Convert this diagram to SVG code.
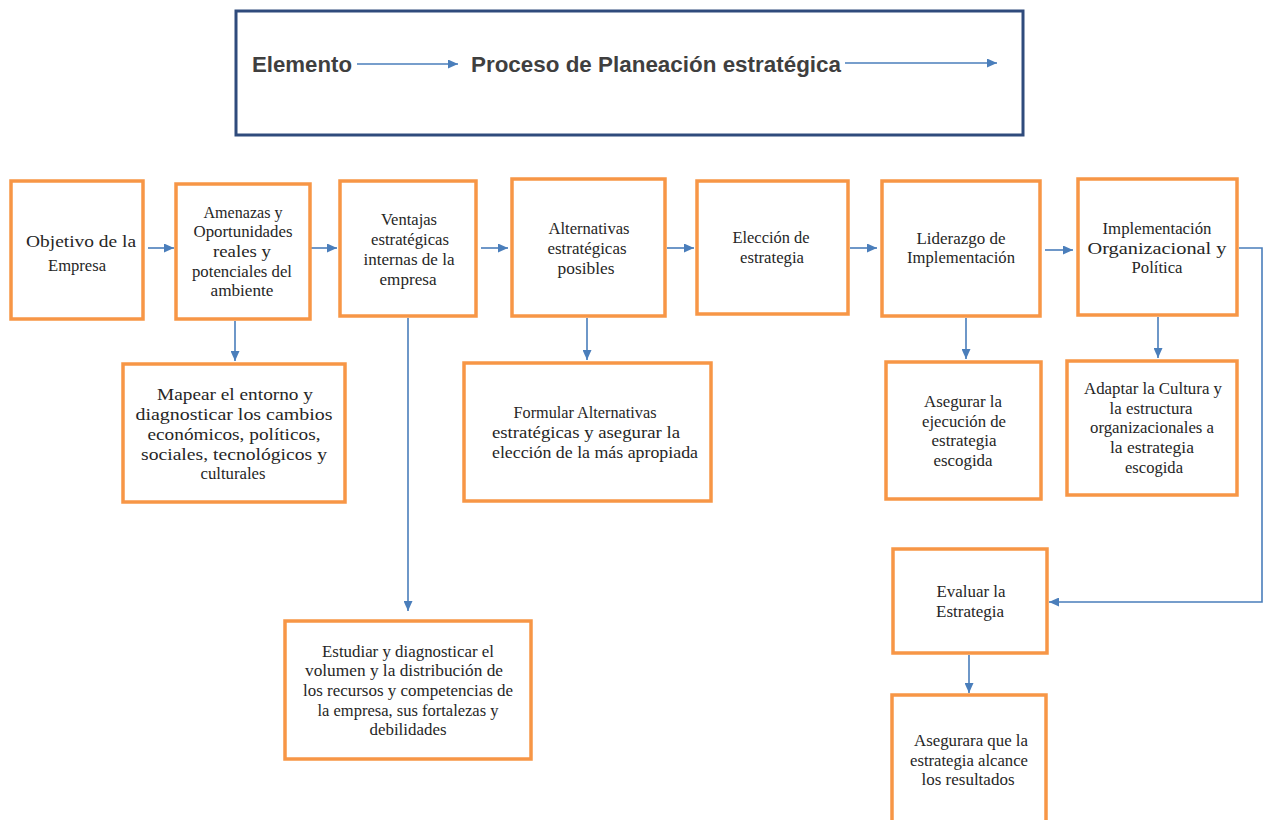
<svg xmlns="http://www.w3.org/2000/svg" width="1264" height="820" viewBox="0 0 1264 820">
<defs>
<marker id="ah" markerUnits="userSpaceOnUse" markerWidth="11" markerHeight="9" refX="10" refY="4.5" orient="auto">
<path d="M0,0 L10,4.5 L0,9 z" fill="#4a7ebb"/>
</marker>
<style>
.box{fill:#fff;stroke:#f79646;stroke-width:3.5}
.t{font-family:"Liberation Serif","Times New Roman",serif;font-size:17.5px;fill:#262626;text-anchor:middle}
.h{font-family:"Liberation Sans",Arial,sans-serif;font-size:22px;font-weight:bold;fill:#3f3f3f}
.c{fill:none;stroke:#4a7ebb;stroke-width:1.6;marker-end:url(#ah)}
</style>
</defs>
<rect width="1264" height="820" fill="#fff"/>
<g id="header">
<rect x="236" y="11" width="787" height="124" fill="#fff" stroke="#2f4b7c" stroke-width="3"/>
<text class="h" x="252" y="72" textLength="100" lengthAdjust="spacingAndGlyphs">Elemento</text>
<text class="h" x="471" y="72" textLength="370" lengthAdjust="spacingAndGlyphs">Proceso de Planeación estratégica</text>
</g>
<g id="connectors">
<path class="c" d="M357,64 L458,64" stroke-width="1.2"/>
<path class="c" d="M845,63 L997,63" stroke-width="1.2"/>
<path class="c" d="M148,248 L174,248"/>
<path class="c" d="M311,248 L337,248"/>
<path class="c" d="M481,248 L508,248"/>
<path class="c" d="M667,248 L694,248"/>
<path class="c" d="M850,248 L877,248"/>
<path class="c" d="M1045,250 L1073,250"/>
<path class="c" d="M235,321 L235,361"/>
<path class="c" d="M587,318 L587,360"/>
<path class="c" d="M966,318 L966,359"/>
<path class="c" d="M1158,317 L1158,358"/>
<path class="c" d="M408,318 L408,611"/>
<path class="c" d="M1239,248 L1262,248 L1262,602 L1049,602"/>
<path class="c" d="M969,655 L969,693"/>
</g>
<g id="n1"><rect class="box" x="11" y="181" width="132" height="138"/>
<text class="t"><tspan x="81" y="247" textLength="110" lengthAdjust="spacingAndGlyphs">Objetivo de la</tspan><tspan x="77" y="271" textLength="58" lengthAdjust="spacingAndGlyphs">Empresa</tspan></text></g>
<g id="n2"><rect class="box" x="176" y="184" width="134" height="135"/>
<text class="t"><tspan x="243" y="218" textLength="79" lengthAdjust="spacingAndGlyphs">Amenazas y</tspan><tspan x="243" y="237" textLength="99" lengthAdjust="spacingAndGlyphs">Oportunidades</tspan><tspan x="242" y="257" textLength="58" lengthAdjust="spacingAndGlyphs">reales y</tspan><tspan x="242" y="277" textLength="100" lengthAdjust="spacingAndGlyphs">potenciales del</tspan><tspan x="242" y="296" textLength="63" lengthAdjust="spacingAndGlyphs">ambiente</tspan></text></g>
<g id="n3"><rect class="box" x="340" y="181" width="136" height="135"/>
<text class="t"><tspan x="409" y="225" textLength="56" lengthAdjust="spacingAndGlyphs">Ventajas</tspan><tspan x="410" y="245" textLength="78" lengthAdjust="spacingAndGlyphs">estratégicas</tspan><tspan x="409" y="265" textLength="91" lengthAdjust="spacingAndGlyphs">internas de la</tspan><tspan x="408" y="285" textLength="57" lengthAdjust="spacingAndGlyphs">empresa</tspan></text></g>
<g id="n4"><rect class="box" x="512" y="179" width="153" height="137"/>
<text class="t"><tspan x="589" y="234" textLength="81" lengthAdjust="spacingAndGlyphs">Alternativas</tspan><tspan x="587" y="254" textLength="79" lengthAdjust="spacingAndGlyphs">estratégicas</tspan><tspan x="586" y="274" textLength="57" lengthAdjust="spacingAndGlyphs">posibles</tspan></text></g>
<g id="n5"><rect class="box" x="697" y="181" width="151" height="133"/>
<text class="t"><tspan x="771" y="243" textLength="77" lengthAdjust="spacingAndGlyphs">Elección de</tspan><tspan x="772" y="263" textLength="64" lengthAdjust="spacingAndGlyphs">estrategia</tspan></text></g>
<g id="n6"><rect class="box" x="882" y="181" width="158" height="135"/>
<text class="t"><tspan x="961" y="244" textLength="89" lengthAdjust="spacingAndGlyphs">Liderazgo de</tspan><tspan x="961" y="263" textLength="108" lengthAdjust="spacingAndGlyphs">Implementación</tspan></text></g>
<g id="n7"><rect class="box" x="1078" y="179" width="159" height="136"/>
<text class="t"><tspan x="1157" y="234" textLength="109" lengthAdjust="spacingAndGlyphs">Implementación</tspan><tspan x="1157" y="254" textLength="139" lengthAdjust="spacingAndGlyphs">Organizacional y</tspan><tspan x="1157" y="273" textLength="51" lengthAdjust="spacingAndGlyphs">Política</tspan></text></g>
<g id="n8"><rect class="box" x="123" y="364" width="222" height="138"/>
<text class="t"><tspan x="235" y="400" textLength="156" lengthAdjust="spacingAndGlyphs">Mapear el entorno y</tspan><tspan x="234" y="420" textLength="197" lengthAdjust="spacingAndGlyphs">diagnosticar los cambios</tspan><tspan x="234" y="440" textLength="173" lengthAdjust="spacingAndGlyphs">económicos, políticos,</tspan><tspan x="234" y="460" textLength="186" lengthAdjust="spacingAndGlyphs">sociales, tecnológicos y</tspan><tspan x="233" y="479" textLength="65" lengthAdjust="spacingAndGlyphs">culturales</tspan></text></g>
<g id="n9"><rect class="box" x="464" y="363" width="247" height="138"/>
<text class="t"><tspan x="585" y="418" textLength="143" lengthAdjust="spacingAndGlyphs">Formular Alternativas</tspan><tspan x="586" y="438" textLength="188" lengthAdjust="spacingAndGlyphs">estratégicas y asegurar la</tspan><tspan x="595" y="458" textLength="206" lengthAdjust="spacingAndGlyphs">elección de la más apropiada</tspan></text></g>
<g id="n10"><rect class="box" x="886" y="362" width="155" height="137"/>
<text class="t"><tspan x="963" y="407" textLength="78" lengthAdjust="spacingAndGlyphs">Asegurar la</tspan><tspan x="964" y="427" textLength="84" lengthAdjust="spacingAndGlyphs">ejecución de</tspan><tspan x="964" y="446" textLength="65" lengthAdjust="spacingAndGlyphs">estrategia</tspan><tspan x="963" y="466" textLength="59" lengthAdjust="spacingAndGlyphs">escogida</tspan></text></g>
<g id="n11"><rect class="box" x="1067" y="361" width="170" height="134"/>
<text class="t"><tspan x="1153" y="394" textLength="138" lengthAdjust="spacingAndGlyphs">Adaptar la Cultura y</tspan><tspan x="1151" y="414" textLength="83" lengthAdjust="spacingAndGlyphs">la estructura</tspan><tspan x="1152" y="433" textLength="124" lengthAdjust="spacingAndGlyphs">organizacionales a</tspan><tspan x="1152" y="453" textLength="84" lengthAdjust="spacingAndGlyphs">la estrategia</tspan><tspan x="1154" y="473" textLength="58" lengthAdjust="spacingAndGlyphs">escogida</tspan></text></g>
<g id="n12"><rect class="box" x="285" y="621" width="246" height="138"/>
<text class="t"><tspan x="408" y="657" textLength="172" lengthAdjust="spacingAndGlyphs">Estudiar y diagnosticar el</tspan><tspan x="404" y="676" textLength="198" lengthAdjust="spacingAndGlyphs">volumen y la distribución de</tspan><tspan x="408" y="696" textLength="210" lengthAdjust="spacingAndGlyphs">los recursos y competencias de</tspan><tspan x="408" y="716" textLength="181" lengthAdjust="spacingAndGlyphs">la empresa, sus fortalezas y</tspan><tspan x="408" y="735" textLength="77" lengthAdjust="spacingAndGlyphs">debilidades</tspan></text></g>
<g id="n13"><rect class="box" x="893" y="549" width="154" height="104"/>
<text class="t"><tspan x="971" y="597" textLength="69" lengthAdjust="spacingAndGlyphs">Evaluar la</tspan><tspan x="970" y="617" textLength="68" lengthAdjust="spacingAndGlyphs">Estrategia</tspan></text></g>
<g id="n14"><rect class="box" x="892" y="695" width="154" height="140"/>
<text class="t"><tspan x="971" y="746" textLength="114" lengthAdjust="spacingAndGlyphs">Asegurara que la</tspan><tspan x="969" y="766" textLength="118" lengthAdjust="spacingAndGlyphs">estrategia alcance</tspan><tspan x="968" y="785" textLength="93" lengthAdjust="spacingAndGlyphs">los resultados</tspan></text></g>
</svg>
